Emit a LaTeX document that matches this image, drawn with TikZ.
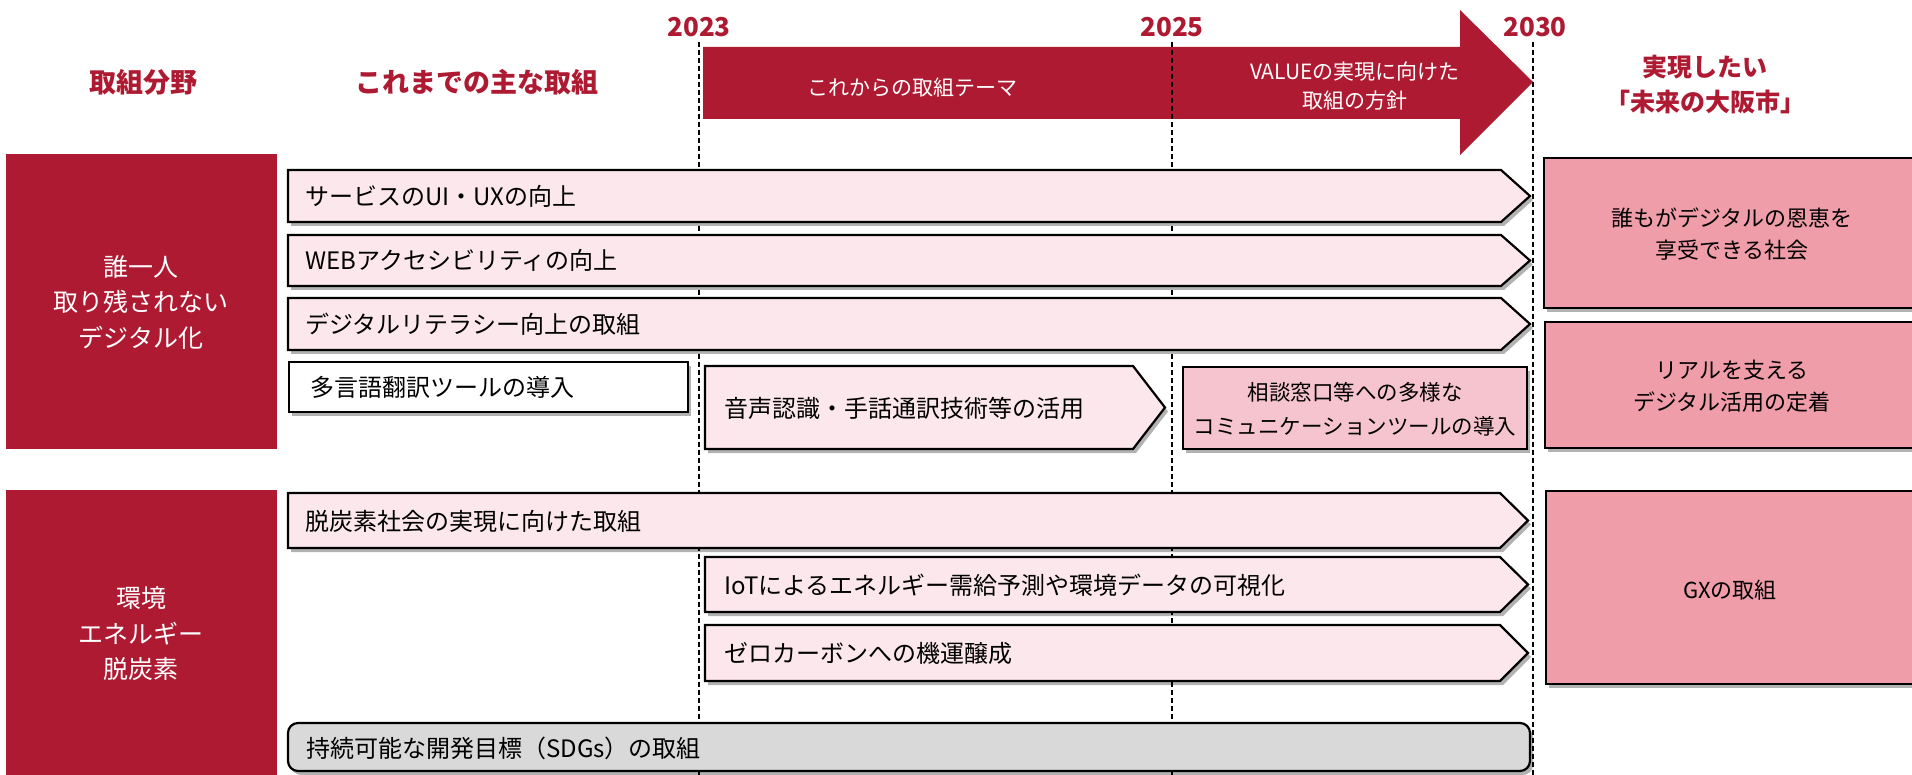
\documentclass[tikz,border=0pt]{standalone}
\usepackage{fontspec}
\setmainfont{Noto Sans CJK JP}
\usetikzlibrary{shadows}
\definecolor{ored}{RGB}{174,26,50}
\definecolor{barfill}{RGB}{252,232,236}
\definecolor{pinkmid}{RGB}{246,196,206}
\definecolor{pinkdeep}{RGB}{240,157,170}
\definecolor{sdggray}{RGB}{217,217,217}
\newcommand\mychev[6][barfill]{\path[barsty,fill=#1] (#2,#3) -- (#4,#3) -- (#5,{(#3+#6)/2}) -- (#4,#6) -- (#2,#6) -- cycle;}
\begin{document}
\begin{tikzpicture}[x=1pt,y=-1pt,
  shad/.style={drop shadow={shadow xshift=3pt,shadow yshift=-4pt,opacity=0.3,fill=black}},
  barsty/.style={draw=black,line width=2.2pt,line join=miter,shad},
  boxsty/.style={draw=black,line width=2.2pt,shad},
  headsty/.style={text=ored,font=\fontsize{27}{35}\selectfont\bfseries,inner sep=0pt},
  yearsty/.style={text=ored,font=\fontsize{26}{30}\selectfont\bfseries,inner sep=0pt},
  bartext/.style={anchor=west,inner sep=0pt,font=\fontsize{24}{30}\selectfont},
  lefttext/.style={text=white,align=center,inner sep=0pt,font=\fontsize{25}{35.5}\selectfont},
  righttext/.style={align=center,inner sep=0pt,font=\fontsize{22}{32}\selectfont},
  arrowtext/.style={text=white,align=center,inner sep=0pt,font=\fontsize{21}{29}\selectfont},
  yearline/.style={draw=black,line width=1.5pt,dash pattern=on 5pt off 3pt}]
\useasboundingbox (0,0) rectangle (1912,775);
\fill[white] (0,0) rectangle (1912,775);

% big arrow
\fill[ored] (703,47) -- (1460,47) -- (1460,10) -- (1533,82) -- (1460,155) -- (1460,119) -- (703,119) -- cycle;
\node[arrowtext] (theme) at (912,88) {これからの取組テーマ};
\node[arrowtext] (policy) at (1355,86) {VALUEの実現に向けた\\取組の方針};

% year labels and dashed lines
\node[yearsty] (y2023) at (699,27) {2023};
\node[yearsty] (y2025) at (1172,27) {2025};
\node[yearsty] (y2030) at (1535,27) {2030};
\coordinate (e2023) at (699,775);
\coordinate (e2025) at (1172,775);
\coordinate (e2030) at (1533,775);
\draw[yearline] (699,42) -- (e2023);
\draw[yearline] (1172,42) -- (e2025);
\draw[yearline] (1533,42) -- (e2030);

% headers
\node[headsty] (hfield) at (143,82) {取組分野};
\node[headsty] (hpast) at (477,82) {これまでの主な取組};
\node[headsty,align=center,font=\fontsize{25}{35}\selectfont\bfseries] (hfuture) at (1705,85) {実現したい\\「未来の大阪市」};

% left category boxes
\fill[ored] (6,154) rectangle (277,449);
\node[lefttext] (cat1) at (141,302) {誰一人\\取り残されない\\デジタル化};
\fill[ored] (6,490) rectangle (277,780);
\node[lefttext] (cat2) at (141,634) {環境\\エネルギー\\脱炭素};

% digital rows
\mychev{288}{170}{1501}{1530}{222}
\node[bartext] (b1) at (305,196) {サービスのUI・UXの向上};
\mychev{288}{235}{1501}{1530}{286}
\node[bartext] (b2) at (305,260) {WEBアクセシビリティの向上};
\mychev{288}{298}{1501}{1530}{350}
\node[bartext] (b3) at (305,324) {デジタルリテラシー向上の取組};
\path[boxsty,fill=white] (289,362) rectangle (688,412);
\node[bartext] (b4) at (310,387) {多言語翻訳ツールの導入};
\mychev{705}{366}{1133}{1165}{449}
\node[bartext] (b5) at (724,408) {音声認識・手話通訳技術等の活用};
\path[boxsty,fill=pinkmid] (1183,367) rectangle (1527,449);
\node[righttext,font=\fontsize{21.5}{34}\selectfont] (b6) at (1355,409) {相談窓口等への多様な\\コミュニケーションツールの導入};

% right result boxes
\path[boxsty,fill=pinkdeep] (1544,158) rectangle (1925,308);
\node[righttext] (r1) at (1732,234) {誰もがデジタルの恩恵を\\享受できる社会};
\path[boxsty,fill=pinkdeep] (1545,322) rectangle (1925,448);
\node[righttext] (r2) at (1732,386) {リアルを支える\\デジタル活用の定着};
\path[boxsty,fill=pinkdeep] (1546,491) rectangle (1925,684);
\node[righttext] (r3) at (1730,590) {GXの取組};

% environment rows
\mychev{288}{493}{1500}{1528}{548}
\node[bartext] (c1) at (305,521) {脱炭素社会の実現に向けた取組};
\mychev{705}{557}{1500}{1528}{612}
\node[bartext] (c2) at (724,585) {IoTによるエネルギー需給予測や環境データの可視化};
\mychev{705}{625}{1500}{1528}{681}
\node[bartext] (c3) at (724,653) {ゼロカーボンへの機運醸成};
\path[boxsty,fill=sdggray,rounded corners=10pt] (288,723) rectangle (1530,771);
\node[bartext] (c4) at (306,748) {持続可能な開発目標（SDGs）の取組};
\end{tikzpicture}
\end{document}
